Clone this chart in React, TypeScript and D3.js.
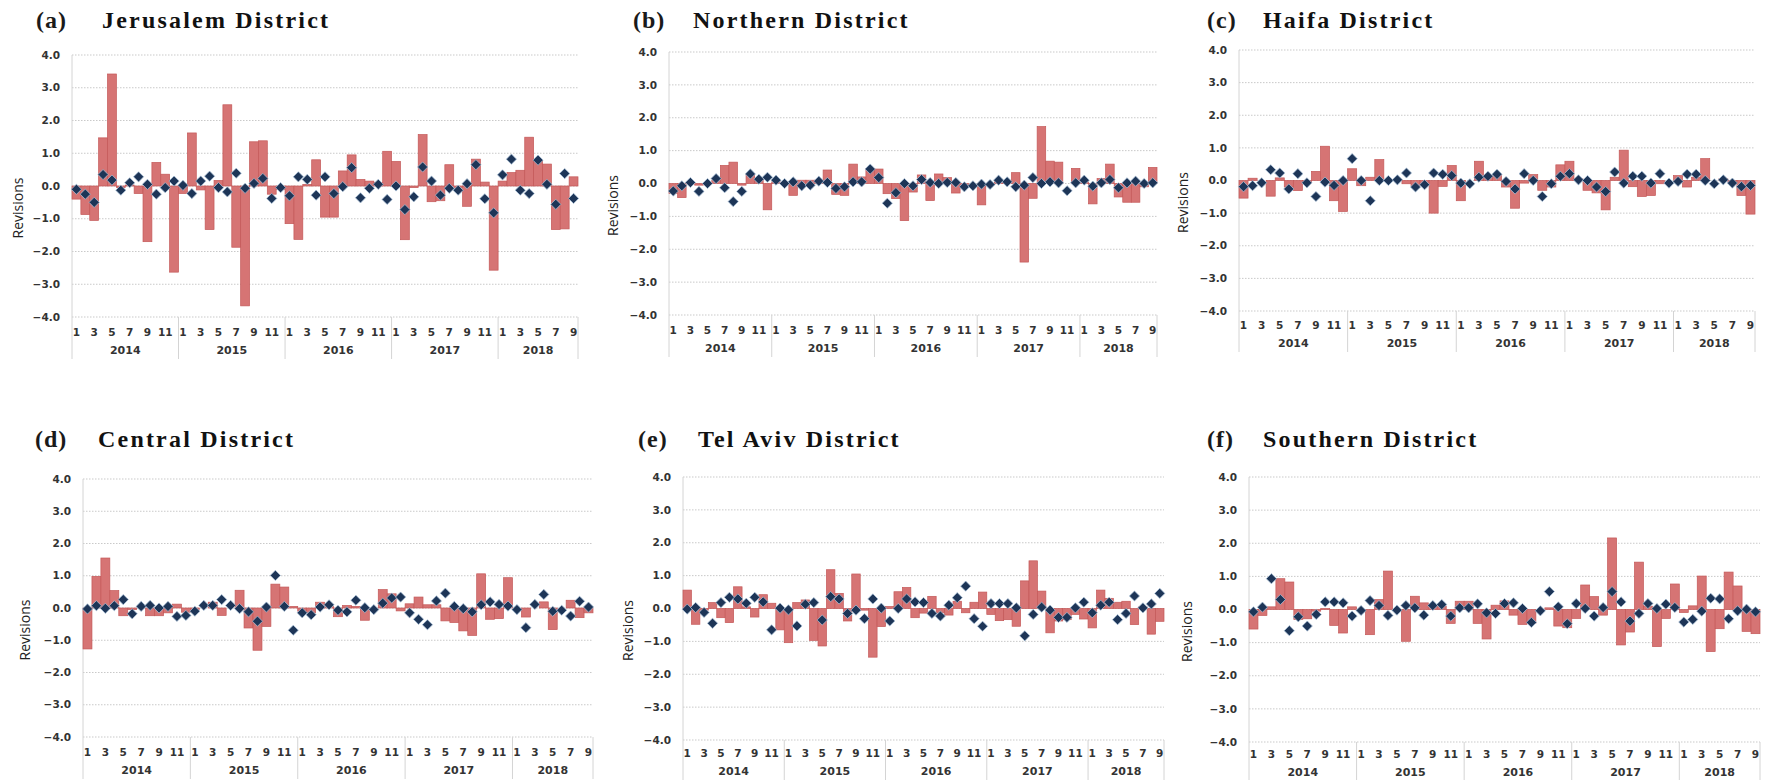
import * as d3 from 'd3'

// months Jan 2014 .. Sep 2018
const years = ['2014', '2015', '2016', '2017', '2018']
const monthsPerYear = [12, 12, 12, 12, 9]
const yTicks = [-4, -3, -2, -1, 0, 1, 2, 3, 4]

const jerusalemBars = [
  -0.4, -0.87, -1.05, 1.47, 3.42, -0.05, 0.03, -0.23, -1.7, 0.72, 0.36, -2.63,
  -0.23, 1.62, -0.12, -1.33, 0.17, 2.48, -1.87, -3.66, 1.35, 1.38, -0.25, -0.1,
  -1.15, -1.63, 0.05, 0.8, -0.95, -0.95, 0.46, 0.95, 0.2, 0.15, 0.1, 1.06,
  0.75, -1.64, -0.05, 1.57, -0.48, -0.45, 0.65, -0.05, -0.62, 0.82, 0.12, -2.57,
  0.15, 0.41, 0.48, 1.49, 0.77, 0.67, -1.33, -1.31, 0.28,
]
const jerusalemPoints = [
  -0.1, -0.25, -0.5, 0.35, 0.18, -0.13, 0.1, 0.28, 0.05, -0.25, -0.05, 0.15,
  0.02, -0.23, 0.15, 0.3, -0.05, -0.18, 0.39, -0.07, 0.08, 0.23, -0.38, -0.05,
  -0.3, 0.28, 0.2, -0.28, 0.28, -0.23, -0.02, 0.56, -0.36, -0.07, 0.05, -0.41,
  0.0, -0.72, -0.33, 0.58, 0.15, -0.28, -0.07, -0.13, 0.07, 0.65, -0.39, -0.82,
  0.34, 0.82, -0.13, -0.23, 0.79, 0.05, -0.56, 0.38, -0.38,
]

const northernBars = [
  -0.3, -0.43, 0.0, -0.05, 0.0, 0.1, 0.55, 0.65, -0.05, 0.29, 0.15, -0.8,
  0.05, 0.0, -0.36, 0.1, 0.1, 0.1, 0.41, -0.33, -0.36, 0.59, 0.2, 0.46,
  0.44, -0.31, -0.46, -1.13, -0.26, 0.26, -0.52, 0.29, 0.18, -0.29, -0.1, 0.0,
  -0.65, 0.0, 0.05, 0.05, 0.33, -2.39, -0.45, 1.73, 0.68, 0.65, 0.0, 0.46,
  0.05, -0.62, 0.15, 0.59, -0.41, -0.57, -0.57, -0.1, 0.49,
]
const northernPoints = [
  -0.23, -0.07, 0.03, -0.24, 0.0, 0.15, -0.13, -0.55, -0.24, 0.29, 0.13, 0.19,
  0.1, 0.0, 0.05, -0.07, -0.05, 0.07, 0.03, -0.15, -0.1, 0.05, 0.05, 0.44,
  0.18, -0.6, -0.28, 0.0, -0.07, 0.12, 0.03, 0.0, 0.03, 0.03, -0.1, -0.07,
  -0.02, -0.03, 0.1, 0.05, -0.1, -0.05, 0.18, 0.0, 0.05, 0.02, -0.22, 0.02,
  0.1, -0.08, 0.02, 0.12, -0.13, 0.02, 0.07, 0.0, 0.02,
]

const haifaBars = [
  -0.54, 0.07, 0.0, -0.48, 0.08, -0.2, -0.31, -0.05, 0.28, 1.05, -0.62, -0.95,
  0.36, -0.16, 0.1, 0.64, 0.0, 0.0, -0.1, -0.16, -0.1, -1.0, -0.18, 0.46,
  -0.62, 0.0, 0.59, 0.13, 0.15, -0.2, -0.85, -0.08, 0.18, -0.3, -0.2, 0.48,
  0.59, 0.05, -0.3, -0.38, -0.9, 0.1, 0.93, -0.19, -0.49, -0.46, -0.1, 0.0,
  0.15, -0.2, 0.1, 0.67, 0.0, 0.05, -0.05, -0.46, -1.03,
]
const haifaPoints = [
  -0.19, -0.16, -0.07, 0.33, 0.23, -0.26, 0.21, -0.07, -0.49, -0.05, -0.15, 0.0,
  0.67, 0.0, -0.62, 0.0, 0.0, 0.02, 0.23, -0.2, -0.13, 0.23, 0.19, 0.15,
  -0.08, -0.1, 0.1, 0.13, 0.19, -0.03, -0.26, 0.21, 0.0, -0.49, -0.1, 0.13,
  0.21, 0.02, 0.0, -0.2, -0.34, 0.26, -0.08, 0.13, 0.13, -0.08, 0.21, -0.08,
  -0.03, 0.19, 0.19, 0.0, -0.1, 0.02, -0.08, -0.19, -0.15,
]

const centralBars = [
  -1.27, 0.98, 1.55, 0.54, -0.24, -0.05, 0.0, -0.24, -0.24, -0.15, 0.12, -0.13,
  -0.05, 0.0, 0.18, -0.23, 0.0, 0.55, -0.62, -1.31, -0.57, 0.74, 0.65, 0.05,
  -0.1, -0.15, 0.18, 0.05, -0.27, 0.08, 0.05, -0.38, 0.0, 0.57, 0.44, -0.09,
  0.13, 0.34, 0.1, 0.1, -0.4, -0.45, -0.71, -0.85, 1.06, -0.35, -0.33, 0.94,
  0.0, -0.28, 0.0, 0.19, -0.67, 0.0, 0.24, -0.3, -0.15,
]
const centralPoints = [
  -0.03, 0.07, -0.01, 0.07, 0.26, -0.18, 0.05, 0.08, 0.0, 0.05, -0.26, -0.23,
  -0.1, 0.08, 0.08, 0.26, 0.08, -0.02, -0.12, -0.41, 0.03, 1.01, 0.05, -0.69,
  -0.15, -0.21, 0.03, 0.1, -0.07, -0.12, 0.24, 0.01, -0.05, 0.15, 0.31, 0.34,
  -0.15, -0.35, -0.52, 0.22, 0.46, 0.05, -0.02, -0.12, 0.1, 0.19, 0.11, 0.06,
  -0.05, -0.61, 0.11, 0.42, -0.1, -0.07, -0.25, 0.21, 0.03,
]

const telAvivBars = [
  0.56, -0.48, -0.05, 0.18, -0.28, -0.43, 0.66, 0.05, -0.26, 0.42, 0.16, -0.65,
  -1.04, 0.18, 0.26, -0.97, -1.14, 1.18, 0.46, -0.38, 1.05, -0.05, -1.48, -0.55,
  0.06, 0.51, 0.64, -0.28, -0.14, 0.37, -0.13, -0.2, 0.22, -0.13, 0.19, 0.5,
  -0.18, -0.37, -0.34, -0.54, 0.84, 1.45, 0.53, -0.74, -0.38, -0.34, -0.18, -0.32,
  -0.59, 0.56, 0.31, 0.19, 0.22, -0.49, 0.05, -0.78, -0.39,
]
const telAvivPoints = [
  -0.02, 0.03, -0.12, -0.45, 0.18, 0.34, 0.29, 0.16, 0.34, 0.2, -0.65, 0.01,
  -0.04, -0.53, 0.13, 0.18, -0.35, 0.36, 0.29, -0.15, -0.05, -0.31, 0.29, 0.01,
  -0.38, 0.0, 0.29, 0.2, 0.18, -0.15, -0.23, 0.1, 0.33, 0.68, -0.31, -0.54,
  0.15, 0.15, 0.15, 0.02, -0.83, -0.18, 0.04, -0.05, -0.27, -0.27, 0.02, 0.19,
  -0.13, 0.1, 0.19, -0.34, -0.15, 0.38, 0.02, 0.14, 0.46,
]

const southernBars = [
  -0.59, -0.18, 0.08, 0.93, 0.83, -0.3, -0.28, -0.05, 0.03, -0.48, -0.71, 0.08,
  0.0, -0.76, 0.3, 1.16, 0.0, -0.96, 0.4, 0.2, 0.15, 0.1, -0.42, 0.25,
  0.25, -0.42, -0.89, 0.13, 0.26, -0.17, -0.45, -0.42, 0.0, 0.05, -0.5, -0.55,
  -0.27, 0.74, 0.39, -0.17, 2.16, -1.07, -0.68, 1.43, 0.1, -1.12, -0.27, 0.77,
  -0.09, 0.11, 1.01, -1.27, -0.58, 1.13, 0.71, -0.66, -0.73,
]
const southernPoints = [
  -0.07, 0.07, 0.93, 0.3, -0.64, -0.22, -0.5, -0.15, 0.23, 0.23, 0.2, -0.2,
  -0.03, 0.27, 0.12, -0.18, -0.02, 0.12, 0.05, -0.17, 0.12, 0.15, -0.2, 0.05,
  0.05, 0.17, -0.1, -0.12, 0.18, 0.2, 0.03, -0.39, -0.04, 0.54, 0.08, -0.43,
  0.18, 0.03, -0.2, 0.06, 0.54, 0.23, -0.35, -0.12, 0.18, 0.03, 0.16, 0.06,
  -0.38, -0.3, -0.05, 0.34, 0.32, -0.28, -0.04, 0.01, -0.07,
]

// month index -> (year, month)
const monthKeys = years.flatMap((yr, k) =>
  d3.range(1, monthsPerYear[k] + 1).map((m) => ({ yr, m }))
)

const panels = [
  { tag: '(a)', name: 'Jerusalem District', bars: jerusalemBars, points: jerusalemPoints,
    tagX: 36, nameX: 102, titleY: 28, left: 72, right: 578, top: 55, bottom: 317, monthY: 332, labelX: 18 },
  { tag: '(b)', name: 'Northern District', bars: northernBars, points: northernPoints,
    tagX: 633, nameX: 693, titleY: 28, left: 669, right: 1157, top: 52, bottom: 315, monthY: 330, labelX: 613 },
  { tag: '(c)', name: 'Haifa District', bars: haifaBars, points: haifaPoints,
    tagX: 1207, nameX: 1263, titleY: 28, left: 1239, right: 1755, top: 50, bottom: 311, monthY: 325, labelX: 1183 },
  { tag: '(d)', name: 'Central District', bars: centralBars, points: centralPoints,
    tagX: 35, nameX: 98, titleY: 447, left: 83, right: 593, top: 479, bottom: 737, monthY: 752, labelX: 25 },
  { tag: '(e)', name: 'Tel Aviv District', bars: telAvivBars, points: telAvivPoints,
    tagX: 638, nameX: 698, titleY: 447, left: 683, right: 1164, top: 477, bottom: 740, monthY: 753, labelX: 628 },
  { tag: '(f)', name: 'Southern District', bars: southernBars, points: southernPoints,
    tagX: 1207, nameX: 1263, titleY: 447, left: 1249, right: 1760, top: 477, bottom: 742, monthY: 754, labelX: 1187 },
]

const tickFont = "'DejaVu Sans', Verdana, sans-serif"
const diamond = d3.symbol(d3.symbolSquare, 52)()

function Panel({ p }) {
  const x = d3
    .scaleBand()
    .domain(d3.range(p.bars.length))
    .range([p.left, p.right])
    .padding(0)
  const y = d3.scaleLinear().domain([-4, 4]).range([p.bottom, p.top])
  const bw = x.bandwidth()
  const yearY = p.monthY + 18
  const lineEnd = Math.min(yearY + 9, 780)

  // start index of each year
  const starts = monthsPerYear.map((_, k) => d3.sum(monthsPerYear.slice(0, k)))

  return (
    <g>
      <text x={p.tagX} y={p.titleY} fontFamily="'Liberation Serif', 'Times New Roman', serif"
        fontWeight='bold' fontSize={24} fill='#1a1a1a' letterSpacing={1}>{p.tag}</text>
      <text x={p.nameX} y={p.titleY} fontFamily="'Liberation Serif', 'Times New Roman', serif"
        fontWeight='bold' fontSize={24} fill='#111' letterSpacing={2.2}>{p.name}</text>

      {yTicks.map((t) => (
        <g key={t}>
          <line x1={p.left} x2={p.right} y1={y(t)} y2={y(t)} stroke='#c9c9c9'
            strokeWidth={1} strokeDasharray='1.5 1.5' />
          <text x={p.left - 12} y={y(t)} dy='0.35em' textAnchor='end' fontFamily={tickFont}
            fontWeight='bold' fontSize={10.5} fill='#333'>{d3.format('.1f')(t)}</text>
        </g>
      ))}

      <line x1={p.left} x2={p.left} y1={p.top} y2={lineEnd} stroke='#d4d4d4' />
      {starts.slice(1).concat([p.bars.length]).map((s) => (
        <line key={s} x1={x(s - 1) + bw} x2={x(s - 1) + bw} y1={p.bottom} y2={lineEnd} stroke='#d4d4d4' />
      ))}

      <text transform={`translate(${p.labelX},${y(0) + 22}) rotate(-90)`} textAnchor='middle'
        dy='0.35em' fontFamily="'Open Sans', sans-serif" fontSize={14} fill='#222'>Revisions</text>

      {p.bars.map((v, i) => (
        <rect key={i} x={x(i)} width={bw} y={Math.min(y(v), y(0))}
          height={Math.abs(y(v) - y(0))} fill='#d67474' stroke='#c45858' strokeWidth={0.7} />
      ))}

      {p.points.map((v, i) => (
        <path key={i} d={diamond} transform={`translate(${x(i) + bw / 2},${y(v)}) rotate(45)`}
          fill='#1d3557' stroke='#a9bfd6' strokeWidth={0.7} />
      ))}

      {monthKeys.map((k, i) =>
        k.m % 2 === 1 ? (
          <text key={i} x={x(i) + bw / 2} y={p.monthY} dy='0.35em' textAnchor='middle'
            fontFamily={tickFont} fontWeight='bold' fontSize={10.5} fill='#333'>{k.m}</text>
        ) : null
      )}

      {years.map((yr, k) => {
        const a = x(starts[k])
        const b = x(starts[k] + monthsPerYear[k] - 1) + bw
        return (
          <text key={yr} x={(a + b) / 2} y={yearY} dy='0.35em' textAnchor='middle'
            fontFamily={tickFont} fontWeight='bold' fontSize={11} fill='#333'>{yr}</text>
        )
      })}
    </g>
  )
}

export default function App() {
  return (
    <svg width={1765} height={781} style={{ position: 'absolute', left: 0, top: 0, background: '#fff' }}>
      {panels.map((p) => (
        <Panel key={p.tag} p={p} />
      ))}
    </svg>
  )
}
